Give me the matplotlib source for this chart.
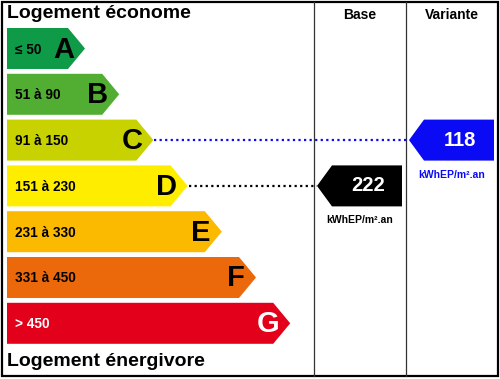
import matplotlib
matplotlib.use("Agg")
import matplotlib.pyplot as plt
from matplotlib.patches import Polygon, Rectangle

plt.rcParams['font.family'] = ['Liberation Sans', 'DejaVu Sans']

# ---- data ----
classes = ["A", "B", "C", "D", "E", "F", "G"]
ranges = ["≤ 50", "51 à 90", "91 à 150", "151 à 230", "231 à 330", "331 à 450", "> 450"]
upper_limits = [50, 90, 150, 230, 330, 450]
colors = ["#0f9a48", "#52ae32", "#c8d200", "#ffed00", "#fbba00", "#eb690b", "#e2001a"]
text_colors = ["black", "black", "black", "black", "black", "black", "white"]
columns = ["Base", "Variante"]
values = [222, 118]
value_colors = ["black", "#0a0af5"]
unit = "kWhEP/m².an"
title_top = "Logement économe"
title_bottom = "Logement énergivore"


def class_index(v):
    for i, lim in enumerate(upper_limits):
        if v <= lim:
            return i
    return len(upper_limits)


W, H = 500, 379
fig = plt.figure(figsize=(W / 100, H / 100), dpi=100)
ax = fig.add_axes([0, 0, 1, 1])
ax.set_xlim(0, W)
ax.set_ylim(H, 0)
ax.axis("off")

x0 = 7
bar_top0 = 28
step = 45.8
bar_h = 41
rect_end0 = 68
width_step = 34.2
tip = 17

tips = []
for i, (c, r, col, tc) in enumerate(zip(classes, ranges, colors, text_colors)):
    top = bar_top0 + i * step
    bot = top + bar_h
    mid = (top + bot) / 2
    re = rect_end0 + i * width_step
    poly = Polygon([(x0, top), (re, top), (re + tip, mid), (re, bot), (x0, bot)],
                   closed=True, facecolor=col, edgecolor="none")
    ax.add_patch(poly)
    ax.text(re + 6, mid + 1, c, ha="right", va="center", fontsize=21,
            fontweight="bold", color=tc)
    ax.text(15, mid + 1, r, ha="left", va="center", fontsize=9.8,
            fontweight="bold", color=tc)
    tips.append((re + tip, mid, top, bot))

# titles
ax.text(7, 14, title_top, ha="left", va="center", fontsize=14, fontweight="bold")
ax.text(7, 362, title_bottom, ha="left", va="center", fontsize=14, fontweight="bold")

# frame and column lines
ax.add_patch(Rectangle((1.5, 1.5), 496, 374, fill=False, edgecolor="black", lw=1.6))
col_lines = [314, 406, 498]
for xl in col_lines[:2]:
    ax.plot([xl, xl], [1.5, 375.5], color="#333333", lw=0.9)

for j, (name, v, vc) in enumerate(zip(columns, values, value_colors)):
    left = col_lines[j]
    right = col_lines[j + 1]
    ax.text((left + right) / 2, 15, name, ha="center", va="center", fontsize=10, fontweight="bold")
    k = class_index(v)
    btip, mid, top, bot = tips[k]
    atip = left + 3
    arect = atip + 15
    aright = right - 4
    ax.add_patch(Polygon([(atip, mid), (arect, top), (aright, top), (aright, bot), (arect, bot)],
                         closed=True, facecolor=vc, edgecolor="none"))
    ax.text((arect + aright) / 2 + 1, mid, str(v), ha="center", va="center",
            fontsize=14.5, fontweight="bold", color="white")
    ax.text((left + right) / 2, bot + 14, unit, ha="center", va="center",
            fontsize=7.5, fontweight="bold", color=vc)
    ax.plot([btip + 1, atip], [mid, mid], color=vc, lw=1.6, linestyle=(0, (1, 1.5)))

fig.savefig("out.png", dpi=100)
